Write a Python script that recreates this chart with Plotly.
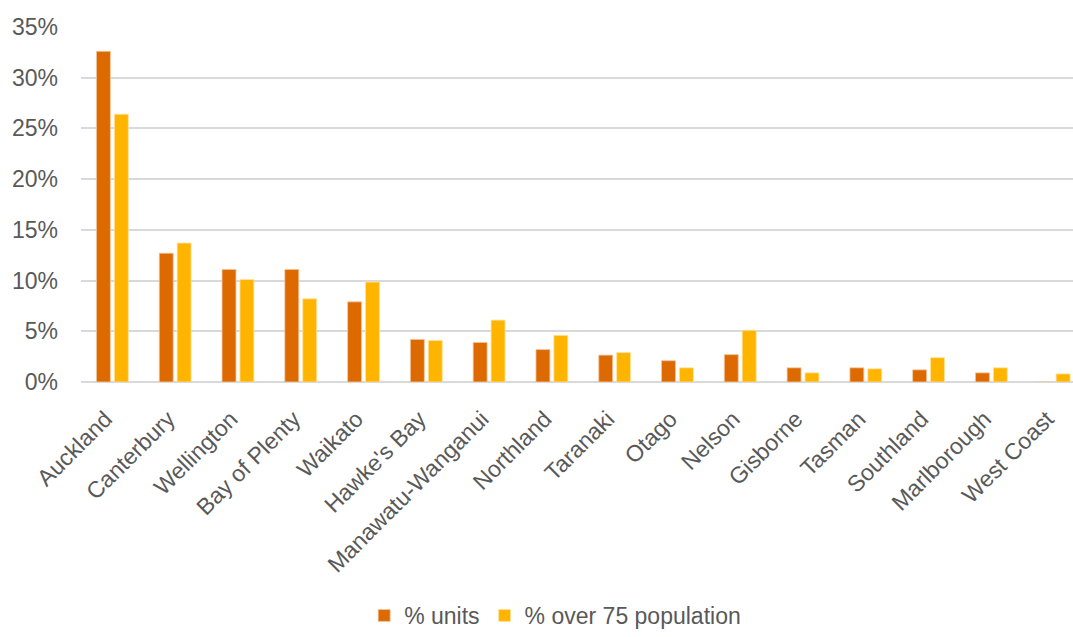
import plotly.graph_objects as go

regions = ["Auckland", "Canterbury", "Wellington", "Bay of Plenty", "Waikato",
           "Hawke's Bay", "Manawatu-Wanganui", "Northland", "Taranaki", "Otago",
           "Nelson", "Gisborne", "Tasman", "Southland", "Marlborough", "West Coast"]
pct_units = [32.6, 12.7, 11.1, 11.1, 7.9, 4.2, 3.9, 3.2, 2.65, 2.1,
             2.7, 1.4, 1.4, 1.2, 0.9, 0.0]
pct_over75 = [26.4, 13.7, 10.1, 8.2, 9.85, 4.1, 6.1, 4.6, 2.9, 1.4,
              5.1, 0.9, 1.3, 2.4, 1.4, 0.8]
y_ticks = [0, 5, 10, 15, 20, 25, 30, 35]
y_tick_labels = [f"{v}%" for v in y_ticks]

FONT = "Liberation Sans, Arial, sans-serif"
TEXT = "#595959"
GRID = "#d9d9d9"

fig = go.Figure()
fig.add_trace(go.Bar(x=regions, y=pct_units, name="% units",
                     marker=dict(color="#dd6a00", line=dict(color="#f2c7a0", width=0.8))))
fig.add_trace(go.Bar(x=regions, y=pct_over75, name="% over 75 population",
                     marker=dict(color="#ffb400", line=dict(color="#ffe3a0", width=0.8))))

fig.update_layout(
    width=1073, height=637,
    margin=dict(l=81, r=0, t=27, b=249),
    paper_bgcolor="white", plot_bgcolor="white",
    barmode="group", bargap=0.43, bargroupgap=0.22,
    font=dict(family=FONT, size=23, color=TEXT),
    showlegend=True,
    legend=dict(orientation="h", x=0.478, xanchor="center", y=-0.658, yanchor="middle",
                font=dict(family=FONT, size=23, color=TEXT),
                traceorder="normal", itemwidth=30),
)
fig.update_xaxes(type="category", range=[-0.5, 15.3], tickangle=-45,
                 showgrid=False, showline=False, ticks="",
                 ticklabelstandoff=18, ticklabelshift=-7,
                 tickfont=dict(family=FONT, size=23, color=TEXT))
fig.update_yaxes(range=[0, 35], tickmode="array", tickvals=y_ticks, ticktext=y_tick_labels,
                 showgrid=True, gridcolor=GRID, gridwidth=2,
                 zeroline=True, zerolinecolor=GRID, zerolinewidth=2,
                 showline=False, ticks="", ticklabelstandoff=22,
                 tickfont=dict(family=FONT, size=23, color=TEXT))

fig.write_html("out.html")
